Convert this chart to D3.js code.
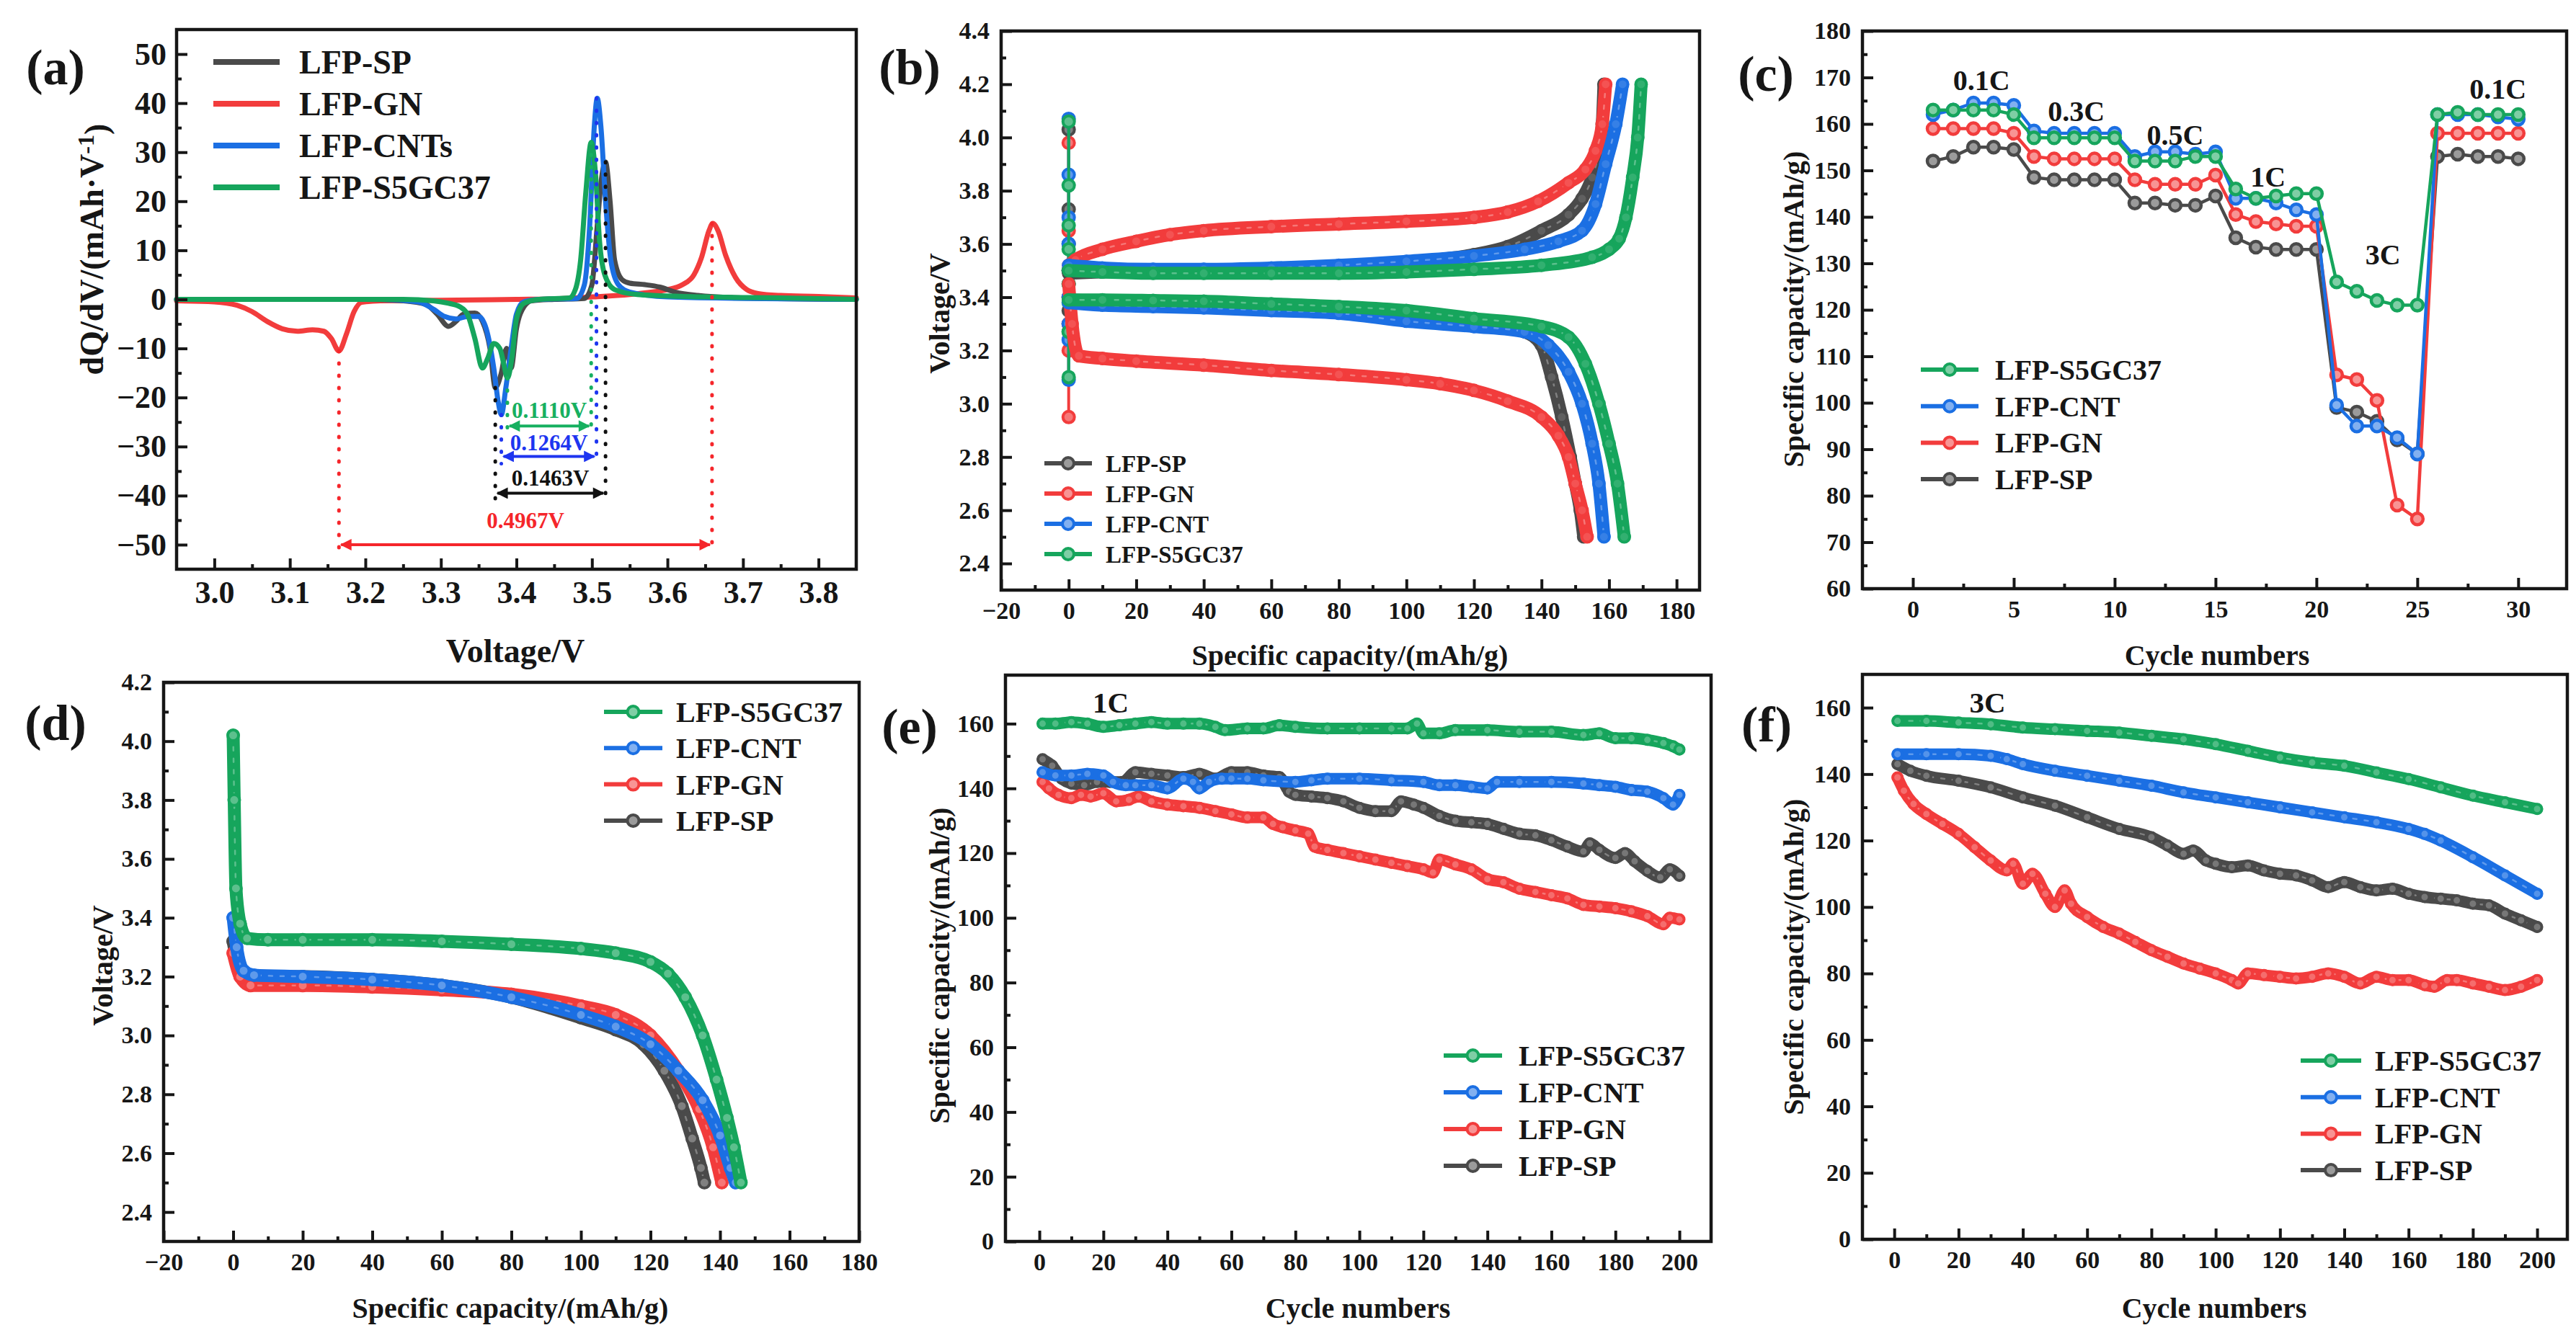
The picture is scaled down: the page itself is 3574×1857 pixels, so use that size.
<!DOCTYPE html>
<meta charset="utf-8">
<style>
  body { margin: 0; background: #fff; }
  svg { display: block; }
</style>
<body>
<script src="https://d3js.org/d3.v7.min.js"></script>
<script>
  // ---------- colours / names ----------
  var colors = { SP: "#4a4a4a", GN: "#f23c3c", CNT: "#1b6fe3", S5: "#16a55c" };

  // ---------- (a) dQ/dV ----------
  var aXTicks = [3.0, 3.1, 3.2, 3.3, 3.4, 3.5, 3.6, 3.7, 3.8];
  var aXMinor = [3.05, 3.15, 3.25, 3.35, 3.45, 3.55, 3.65, 3.75];
  var aYTicks = [-50, -40, -30, -20, -10, 0, 10, 20, 30, 40, 50];
  var aYMinor = [-45, -35, -25, -15, -5, 5, 15, 25, 35, 45];
  var aLegend = ["LFP-SP", "LFP-GN", "LFP-CNTs", "LFP-S5GC37"];

  var dqdvGN = [[2.95,-0.3],[3.00,-0.5],[3.03,-1.2],[3.05,-2.5],[3.07,-4.5],[3.09,-6.0],[3.11,-6.5],[3.13,-6.2],[3.145,-6.5],[3.155,-8],[3.165,-10.5],[3.175,-7],[3.185,-2.5],[3.195,-0.6],[3.22,-0.3],[3.3,-0.2],[3.4,0],[3.45,0.1],[3.5,0.5],[3.55,1.0],[3.58,1.5],[3.60,2.0],[3.62,3.0],[3.635,5.0],[3.645,8.5],[3.655,14],[3.66,15.5],[3.667,14],[3.677,9],[3.69,4.5],[3.705,2.0],[3.72,1.2],[3.75,0.8],[3.8,0.6],[3.85,0.3]];
  var dqdvSP = [[2.95,0],[3.2,0],[3.25,-0.3],[3.28,-1],[3.295,-3],[3.31,-5.5],[3.32,-4.5],[3.33,-3],[3.345,-2.8],[3.355,-4.5],[3.365,-10],[3.372,-18],[3.38,-15],[3.387,-10],[3.393,-14],[3.40,-6],[3.41,-1.5],[3.42,-0.3],[3.45,0],[3.49,0.2],[3.50,3],[3.507,15],[3.513,25],[3.518,28],[3.524,20],[3.53,8],[3.54,4],[3.55,3.3],[3.57,3],[3.59,2.5],[3.61,1.5],[3.64,0.8],[3.7,0.3],[3.85,0]];
  var dqdvCNT = [[2.95,0],[3.22,0],[3.27,-0.5],[3.29,-2],[3.305,-3.5],[3.32,-4],[3.335,-3.5],[3.35,-3.5],[3.36,-6],[3.37,-14],[3.376,-21],[3.38,-23.5],[3.386,-18],[3.393,-10],[3.40,-3],[3.41,-0.5],[3.43,0],[3.48,0.2],[3.49,3],[3.497,15],[3.503,35],[3.507,41],[3.512,35],[3.518,20],[3.525,8],[3.535,3],[3.55,1.5],[3.6,0.5],[3.7,0.2],[3.85,0]];
  var dqdvS5 = [[2.95,0],[3.25,0],[3.29,-0.3],[3.31,-0.8],[3.325,-1.5],[3.335,-3],[3.345,-8],[3.355,-14],[3.362,-12],[3.37,-9],[3.378,-10],[3.383,-13],[3.388,-16],[3.394,-12],[3.40,-4],[3.41,-0.8],[3.43,0],[3.47,0.3],[3.478,2],[3.485,8],[3.492,22],[3.499,32],[3.505,25],[3.51,12],[3.517,5],[3.53,2],[3.56,1],[3.65,0.5],[3.75,0.3],[3.85,0]];

  // polarization gaps: [left V, left value, right V, right value, arrow level, label level, label]
  var gapGN = [3.165, -10.5, 3.659, 15.5, -50, -45, "0.4967V"];
  var gapSP = [3.372, -18, 3.518, 28, -39.5, -36.3, "0.1463V"];
  var gapCNT = [3.380, -23.5, 3.506, 41, -32, -29.2, "0.1264V"];
  var gapS5 = [3.388, -16, 3.499, 32, -25.8, -22.6, "0.1110V"];

  // ---------- (b) charge / discharge ----------
  var bXTicks = [-20, 0, 20, 40, 60, 80, 100, 120, 140, 160, 180];
  var bXMinor = [-10, 10, 30, 50, 70, 90, 110, 130, 150, 170];
  var bYTicks = [2.4, 2.6, 2.8, 3.0, 3.2, 3.4, 3.6, 3.8, 4.0, 4.2, 4.4];
  var bYMinor = [2.5, 2.7, 2.9, 3.1, 3.3, 3.5, 3.7, 3.9, 4.1, 4.3];
  var bLegend = ["LFP-SP", "LFP-GN", "LFP-CNT", "LFP-S5GC37"];

  var restSP = [4.03, 3.73, 3.6, 3.5, 3.45, 3.4, 3.35, 3.3, 3.27];
  var restGN = [3.98, 3.65, 3.5, 3.4, 3.3, 3.2, 2.95];
  var restCNT = [4.07, 3.86, 3.7, 3.6, 3.5, 3.4, 3.3, 3.24, 3.09];
  var restS5 = [4.06, 3.82, 3.67, 3.58, 3.5, 3.45, 3.38, 3.27, 3.1];

  var chargeSP = [[0,3.49],[10,3.495],[25,3.498],[40,3.50],[60,3.505],[80,3.51],[100,3.53],[120,3.56],[130,3.59],[140,3.65],[148,3.71],[152,3.77],[155,3.85],[157,3.95],[158,4.05],[158.5,4.2]];
  var chargeGN = [[0,3.52],[2,3.54],[10,3.58],[20,3.61],[30,3.635],[40,3.65],[60,3.665],[80,3.675],[100,3.685],[120,3.70],[130,3.72],[139,3.76],[148,3.83],[153,3.88],[156,3.95],[158,4.05],[159,4.2]];
  var chargeCNT = [[0,3.52],[10,3.51],[25,3.505],[40,3.505],[60,3.51],[80,3.52],[100,3.535],[120,3.555],[135,3.58],[145,3.61],[152,3.65],[156,3.75],[159,3.9],[162,4.05],[164,4.2]];
  var chargeS5 = [[0,3.50],[10,3.495],[25,3.49],[40,3.49],[60,3.49],[80,3.49],[100,3.495],[120,3.505],[140,3.52],[155,3.55],[160,3.58],[163,3.62],[165,3.7],[167,3.85],[168.5,4.0],[169.5,4.2]];
  var dischSP = [[0,3.39],[10,3.385],[25,3.38],[40,3.375],[60,3.365],[80,3.35],[100,3.34],[120,3.31],[135,3.27],[140,3.22],[143,3.1],[146,2.95],[148.5,2.8],[150,2.7],[151.5,2.6],[152.5,2.5]];
  var dischGN = [[0,3.45],[1,3.3],[3,3.18],[10,3.17],[20,3.16],[40,3.145],[60,3.125],[80,3.11],[100,3.09],[110,3.075],[120,3.05],[130,3.01],[140,2.95],[145,2.88],[148,2.8],[150,2.7],[152,2.6],[153.5,2.5]];
  var dischCNT = [[0,3.38],[10,3.37],[25,3.365],[40,3.36],[60,3.35],[80,3.34],[100,3.31],[120,3.29],[135,3.27],[142,3.22],[148,3.12],[152,3.0],[155,2.85],[157,2.7],[158.5,2.5]];
  var dischS5 = [[0,3.39],[10,3.39],[25,3.388],[40,3.385],[60,3.375],[80,3.365],[100,3.35],[120,3.32],[140,3.29],[148,3.25],[153,3.15],[157,3.0],[160,2.85],[162.5,2.7],[164.5,2.5]];

  // ---------- (c) rate capability ----------
  var cXTicks = [0, 5, 10, 15, 20, 25, 30];
  var cXMinor = [2.5, 7.5, 12.5, 17.5, 22.5, 27.5];
  var cYTicks = [60, 70, 80, 90, 100, 110, 120, 130, 140, 150, 160, 170, 180];
  var cYMinor = [65, 75, 85, 95, 105, 115, 125, 135, 145, 155, 165, 175];
  var cycles30 = d3.range(1, 31);
  var rateS5 = [163,163,163,163,162,157,157,157,157,157,152,152,152,153,153,146,144,144.5,145,145,126,124,122,121,121,162,162.5,162,162,162];
  var rateCNT = [162,163,164.5,164.5,164,158.5,158,158,158,158,153,154,154,153.5,154,144,144,143,141.5,140.5,99.5,95,95,92.5,89,162,162,162,161.5,161];
  var rateGN = [159,159,159,159,158,153,152.5,152.5,152.5,152.5,148,147,147,147,149,140.5,139,138.5,138,138,106,105,100.5,78,75,158,158,158,158,158];
  var rateSP = [152,153,155,155,154.5,148.5,148,148,148,148,143,143,142.5,142.5,144.5,135.5,133.5,133,133,133,99,98,96,92,89,153,153.5,153,153,152.5];
  var rateLabels = [["0.1C", 3.4, 169.5], ["0.3C", 8.1, 162.8], ["0.5C", 13, 157.7], ["1C", 17.6, 148.7], ["3C", 23.3, 132], ["0.1C", 29, 167.6]];
  var cLegend = ["LFP-S5GC37", "LFP-CNT", "LFP-GN", "LFP-SP"];

  // ---------- (d) discharge ----------
  var dYTicks = [2.4, 2.6, 2.8, 3.0, 3.2, 3.4, 3.6, 3.8, 4.0, 4.2];
  var dYMinor = [2.5, 2.7, 2.9, 3.1, 3.3, 3.5, 3.7, 3.9, 4.1];
  var dS5 = [[0,4.02],[0.3,3.8],[0.8,3.5],[2,3.38],[4,3.33],[10,3.325],[20,3.325],[40,3.325],[60,3.32],[80,3.31],[100,3.295],[110,3.28],[120,3.25],[125,3.21],[130,3.13],[135,3.0],[139,2.85],[142,2.72],[144,2.62],[146,2.5]];
  var dCNT = [[0,3.4],[1,3.3],[3,3.22],[6,3.205],[20,3.2],[40,3.19],[60,3.17],[80,3.13],[100,3.07],[110,3.03],[120,2.97],[128,2.88],[135,2.78],[140,2.66],[143,2.55],[144.5,2.5]];
  var dGN = [[0,3.28],[2,3.2],[5,3.17],[20,3.17],[40,3.165],[60,3.155],[80,3.14],[100,3.1],[110,3.07],[120,3.0],[128,2.88],[134,2.75],[138,2.62],[140.5,2.5]];
  var dSP = [[0,3.32],[2,3.22],[5,3.2],[20,3.2],[40,3.19],[60,3.17],[80,3.13],[100,3.06],[110,3.02],[118,2.97],[124,2.88],[129,2.76],[132,2.65],[134.5,2.55],[135.5,2.5]];
  var dLegend = ["LFP-S5GC37", "LFP-CNT", "LFP-GN", "LFP-SP"];

  // ---------- (e) 1C cycling ----------
  var cycXTicks = [0, 20, 40, 60, 80, 100, 120, 140, 160, 180, 200];
  var cycXMinor = [10, 30, 50, 70, 90, 110, 130, 150, 170, 190];
  var cycYTicks = [0, 20, 40, 60, 80, 100, 120, 140, 160];
  var cycYMinor = [10, 30, 50, 70, 90, 110, 130, 150];
  var eS5 = [[1,160],[5,160],[10,160.5],[15,160],[20,159],[25,159.5],[30,160],[35,160.5],[40,160],[45,160],[50,160],[55,159],[58,158],[65,158.5],[70,158.5],[75,159.5],[80,159],[90,158.5],[100,158.5],[110,158.5],[115,158.5],[118,160],[120,157],[125,157],[130,158],[140,158],[150,157.5],[160,157.5],[170,156.5],[175,157],[180,155.5],[185,155.5],[190,155],[195,154],[198,153],[200,152]];
  var eCNT = [[1,145],[5,144],[10,144],[15,144.5],[20,144],[23,142],[27,141],[30,141],[35,141],[40,140],[45,143],[48,142],[50,140],[53,142],[57,143],[60,143],[65,143],[70,142.5],[80,142],[85,142.5],[90,143],[100,143],[110,142.5],[120,142],[125,141],[130,141],[135,140.5],[140,140],[143,142],[150,142],[160,142],[170,141.5],[175,141],[180,140.5],[185,139.5],[190,139],[195,137],[198,135],[200,138]];
  var eGN = [[1,142],[3,140],[6,138],[10,137],[13,138],[16,137.5],[20,138.5],[24,136],[28,136.5],[31,137.5],[35,136],[40,135],[45,134.5],[50,134],[55,133],[60,132],[65,131],[70,131],[73,129],[76,128],[80,127],[84,126],[86,122],[90,121],[95,120],[100,119],[105,118],[110,117],[115,116],[120,115],[123,114],[125,118],[130,116.5],[135,115],[140,112],[145,111],[150,109],[155,108],[160,107],[165,106],[170,104],[175,103.5],[180,103],[185,102],[190,100.5],[195,98],[197,100],[200,99.5]];
  var eSP = [[1,149],[4,147],[7,143],[10,141.5],[14,141],[18,142],[22,142],[26,142],[30,145],[35,144.5],[40,144],[45,143.5],[50,144.5],[55,143],[60,145],[65,145],[70,144],[75,143.5],[78,139],[80,138],[85,137.5],[90,137],[95,136],[100,134],[105,133],[110,133],[113,136],[117,135],[120,134],[125,131.5],[130,130],[135,129.5],[140,129],[145,127.5],[150,126],[155,125.5],[160,124],[165,122],[170,120.5],[172,123],[175,121],[180,118.5],[183,120],[186,117.5],[190,114.5],[194,112.5],[197,115],[200,113]];

  // ---------- (f) 3C cycling ----------
  var fS5 = [[1,156],[10,156],[20,155.5],[30,155],[40,154],[50,153.5],[60,153],[70,152.5],[80,151.5],[90,150.5],[100,149],[110,147],[120,145],[130,143.5],[140,142.5],[150,140.5],[160,138.5],[170,136],[180,133.5],[190,131.5],[200,129.5]];
  var fCNT = [[1,146],[10,146],[20,146],[30,145.5],[35,144.5],[40,143],[50,141],[60,139.5],[70,138],[80,136.5],[90,134.5],[100,133],[110,131.5],[120,130],[130,128.5],[140,127],[150,125.5],[160,123.5],[165,122],[170,120],[180,115],[190,109.5],[200,104]];
  var fGN = [[1,139],[3,135],[6,131],[10,128],[15,125],[20,122],[25,118],[30,114],[35,111],[37,113],[40,107],[43,110],[47,104],[50,100],[53,105],[55,101],[60,97],[65,94],[70,92],[75,89.5],[80,87],[85,85],[90,83],[95,81.5],[100,80],[105,78],[107,77],[110,80],[115,79.5],[120,79],[125,78.5],[130,79],[135,80],[140,79],[145,77],[150,79],[155,78],[160,78],[165,76.5],[168,76],[172,78],[175,78],[180,77],[185,76],[190,75],[195,76],[200,78]];
  var fSP = [[1,143],[5,141],[10,139.5],[20,138],[30,136],[40,133],[50,130.5],[60,127],[70,123.5],[80,121],[85,118.5],[90,116],[93,117],[97,114],[100,113],[105,112],[110,112.5],[115,111],[120,110],[125,109.5],[130,108],[135,106],[140,107.5],[145,106],[150,105],[155,105.5],[160,104],[165,103],[170,102.5],[175,102],[180,101],[185,100.5],[190,98],[195,96],[200,94]];
  var eRate = ["1C", 22.3, 166.7];
  var fRate = ["3C", 29, 161.7];

  // ---------- drawing ----------
  var serif = "'Liberation Serif', 'Times New Roman', serif";
  var ink = "#161616";

  var svg = d3.select("body").append("svg")
    .attr("width", 3574)
    .attr("height", 1857)
    .attr("font-family", serif)
    .attr("font-weight", "bold");

  var defs = svg.append("defs");

  function tint(c, k) {
    return d3.interpolateRgb(c, "#ffffff")(k);
  }

  function panel(p) {
    var x = d3.scaleLinear().domain(p.xDomain).range([p.left, p.right]);
    var y = d3.scaleLinear().domain(p.yDomain).range([p.bottom, p.top]);
    var g = svg.append("g");
    var content = g.append("g");

    function styleAxis(a) {
      a.select(".domain").remove();
      a.attr("font-family", serif).attr("font-size", p.fs).attr("font-weight", "bold");
      a.selectAll("line").attr("stroke", ink).attr("stroke-width", 4);
      a.selectAll("text").attr("fill", ink);
    }

    g.append("g").attr("transform", "translate(0," + p.bottom + ")")
      .call(d3.axisBottom(x).tickValues(p.xMinor).tickSize(-7).tickFormat(""))
      .call(styleAxis);
    g.append("g").attr("transform", "translate(0," + p.bottom + ")")
      .call(d3.axisBottom(x).tickValues(p.xTicks).tickSize(-15).tickPadding(p.padX).tickFormat(p.xFormat))
      .call(styleAxis);
    g.append("g").attr("transform", "translate(" + p.left + ",0)")
      .call(d3.axisLeft(y).tickValues(p.yMinor).tickSize(-7).tickFormat(""))
      .call(styleAxis);
    g.append("g").attr("transform", "translate(" + p.left + ",0)")
      .call(d3.axisLeft(y).tickValues(p.yTicks).tickSize(-15).tickPadding(p.padY).tickFormat(p.yFormat))
      .call(styleAxis);

    g.append("rect")
      .attr("x", p.left).attr("y", p.top)
      .attr("width", p.right - p.left).attr("height", p.bottom - p.top)
      .attr("fill", "none").attr("stroke", ink).attr("stroke-width", 4.5);

    // titles
    g.append("text")
      .attr("x", p.xTitle[0]).attr("y", p.xTitle[1])
      .attr("text-anchor", "middle").attr("dy", "0.35em")
      .attr("font-size", p.tfs).attr("fill", ink)
      .text(p.xLabel);
    var yt = g.append("text")
      .attr("transform", "translate(" + p.yTitle[0] + "," + p.yTitle[1] + ") rotate(-90)")
      .attr("text-anchor", "middle").attr("dy", "0.35em")
      .attr("font-size", p.tfs).attr("fill", ink);
    if (typeof p.yLabel === "string") {
      yt.text(p.yLabel);
    } else {
      yt.append("tspan").text(p.yLabel[0]);
      yt.append("tspan").attr("dy", "-0.4em").attr("font-size", p.tfs * 0.7).text(p.yLabel[1]);
      yt.append("tspan").attr("dy", "0.4em").text(p.yLabel[2]);
    }
    g.append("text")
      .attr("x", p.tag[0]).attr("y", p.tag[1])
      .attr("text-anchor", "middle").attr("dy", "0.35em")
      .attr("font-size", 70).attr("fill", ink)
      .text(p.tagText);

    return { g: content, x: x, y: y, frame: g };
  }

  function plainLine(P, data, color, w) {
    P.g.append("path")
      .datum(data)
      .attr("fill", "none").attr("stroke", color).attr("stroke-width", w)
      .attr("stroke-linejoin", "round").attr("stroke-linecap", "round")
      .attr("d", d3.line().x(function (d) { return P.x(d[0]); }).y(function (d) { return P.y(d[1]); }).curve(d3.curveMonotoneX));
  }

  // dense hollow-circle curve: wide coloured band, faint pale core, beads at the points
  function band(P, data, color, w, k) {
    var line = d3.line().x(function (d) { return P.x(d[0]); }).y(function (d) { return P.y(d[1]); }).curve(d3.curveMonotoneX);
    P.g.append("path").datum(data)
      .attr("fill", "none").attr("stroke", color).attr("stroke-width", w)
      .attr("stroke-linejoin", "round").attr("stroke-linecap", "round").attr("d", line);
    P.g.append("path").datum(data)
      .attr("fill", "none").attr("stroke", tint(color, 0.5)).attr("stroke-width", 2.5)
      .attr("stroke-opacity", 0.6)
      .attr("stroke-dasharray", "5,11").attr("stroke-linecap", "round").attr("d", line);
    P.g.selectAll(null).data(data).enter().append("circle")
      .attr("cx", function (d) { return P.x(d[0]); })
      .attr("cy", function (d) { return P.y(d[1]); })
      .attr("r", w / 2 - 1.5)
      .attr("fill", tint(color, k)).attr("stroke", color).attr("stroke-width", 4);
  }

  function restColumn(P, volts, color) {
    var pts = volts.map(function (v) { return [0, v]; });
    P.g.append("path").datum(pts)
      .attr("fill", "none").attr("stroke", color).attr("stroke-width", 4)
      .attr("d", d3.line().x(function (d) { return P.x(d[0]); }).y(function (d) { return P.y(d[1]); }));
    P.g.selectAll(null).data(pts).enter().append("circle")
      .attr("cx", function (d) { return P.x(d[0]); })
      .attr("cy", function (d) { return P.y(d[1]); })
      .attr("r", 8).attr("fill", tint(color, 0.3)).attr("stroke", color).attr("stroke-width", 4);
  }

  function marked(P, xs, ys, color) {
    var pts = xs.map(function (c, i) { return [c, ys[i]]; });
    P.g.append("path").datum(pts)
      .attr("fill", "none").attr("stroke", color).attr("stroke-width", 4.5)
      .attr("d", d3.line().x(function (d) { return P.x(d[0]); }).y(function (d) { return P.y(d[1]); }));
    P.g.selectAll(null).data(pts).enter().append("circle")
      .attr("cx", function (d) { return P.x(d[0]); })
      .attr("cy", function (d) { return P.y(d[1]); })
      .attr("r", 8).attr("fill", tint(color, 0.45)).attr("stroke", color).attr("stroke-width", 4.5);
  }

  function legend(names, cols, x0, x1, xt, y0, dy, fs, w, withDot) {
    var lg = svg.append("g");
    names.forEach(function (n, i) {
      var yy = y0 + dy * i;
      lg.append("line").attr("x1", x0).attr("x2", x1).attr("y1", yy).attr("y2", yy)
        .attr("stroke", cols[i]).attr("stroke-width", w);
      if (withDot) {
        lg.append("circle").attr("cx", (x0 + x1) / 2).attr("cy", yy).attr("r", 8)
          .attr("fill", tint(cols[i], 0.45)).attr("stroke", cols[i]).attr("stroke-width", 4);
      }
      lg.append("text").attr("x", xt).attr("y", yy).attr("dy", "0.35em")
        .attr("font-size", fs).attr("fill", ink).text(n);
    });
  }

  function rateText(P, r, fs) {
    P.frame.append("text")
      .attr("x", P.x(r[1])).attr("y", P.y(r[2]))
      .attr("text-anchor", "middle").attr("dy", "0.35em")
      .attr("font-size", fs).attr("fill", ink).text(r[0]);
  }

  var f1 = d3.format(".1f");

  // (a)
  var A = panel({
    left: 245, right: 1188, top: 41, bottom: 790,
    xDomain: [2.95, 3.85], yDomain: [-55, 55],
    xTicks: aXTicks, xMinor: aXMinor, yTicks: aYTicks, yMinor: aYMinor,
    xFormat: f1, yFormat: d3.format("d"), fs: 44, padX: 16, padY: 14,
    tfs: 46, xLabel: "Voltage/V", xTitle: [715, 903],
    yLabel: ["dQ/dV/(mAh·V", "-1", ")"], yTitle: [127, 346],
    tag: [77, 92], tagText: "(a)"
  });
  plainLine(A, dqdvGN, colors.GN, 7);
  plainLine(A, dqdvSP, colors.SP, 7);
  plainLine(A, dqdvCNT, colors.CNT, 7);
  plainLine(A, dqdvS5, colors.S5, 7);

  var gapCols = ["#f5262b", "#111111", "#1e35f0", "#17b060"];
  [gapGN, gapSP, gapCNT, gapS5].forEach(function (gp, i) {
    var col = gapCols[i];
    defs.append("marker").attr("id", "ah" + i)
      .attr("viewBox", "0 0 10 10").attr("refX", 9).attr("refY", 5)
      .attr("markerWidth", 6).attr("markerHeight", 4).attr("orient", "auto-start-reverse")
      .append("path").attr("d", "M0,0L10,5L0,10z").attr("fill", col);
    var ybot = gp[4] - 1.5;
    [[gp[0], gp[1]], [gp[2], gp[3]]].forEach(function (e) {
      A.g.append("line")
        .attr("x1", A.x(e[0])).attr("x2", A.x(e[0]))
        .attr("y1", A.y(e[1])).attr("y2", A.y(ybot))
        .attr("stroke", col).attr("stroke-width", 5)
        .attr("stroke-dasharray", "1,16").attr("stroke-linecap", "round");
    });
    A.g.append("line")
      .attr("x1", A.x(gp[0]) + 3).attr("x2", A.x(gp[2]) - 3)
      .attr("y1", A.y(gp[4])).attr("y2", A.y(gp[4]))
      .attr("stroke", col).attr("stroke-width", 4)
      .attr("marker-start", "url(#ah" + i + ")").attr("marker-end", "url(#ah" + i + ")");
    A.g.append("text")
      .attr("x", A.x((gp[0] + gp[2]) / 2)).attr("y", A.y(gp[5]))
      .attr("text-anchor", "middle").attr("dy", "0.35em")
      .attr("font-size", 31).attr("fill", col).text(gp[6]);
  });
  legend(aLegend, [colors.SP, colors.GN, colors.CNT, colors.S5], 296, 388, 415, 86, 58, 46, 8, false);

  // (b)
  var B = panel({
    left: 1389, right: 2358, top: 43, bottom: 819,
    xDomain: [-20, 186.8], yDomain: [2.3, 4.4],
    xTicks: bXTicks, xMinor: bXMinor, yTicks: bYTicks, yMinor: bYMinor,
    xFormat: d3.format("d"), yFormat: f1, fs: 34, padX: 16, padY: 16,
    tfs: 40, xLabel: "Specific capacity/(mAh/g)", xTitle: [1873, 909],
    yLabel: "Voltage/V", yTitle: [1303, 435],
    tag: [1262, 92], tagText: "(b)"
  });
  restColumn(B, restSP, colors.SP);
  restColumn(B, restGN, colors.GN);
  restColumn(B, restCNT, colors.CNT);
  restColumn(B, restS5, colors.S5);
  band(B, chargeSP, colors.SP, 18, 0.12);
  band(B, dischSP, colors.SP, 18, 0.12);
  band(B, chargeGN, colors.GN, 18, 0.12);
  band(B, dischGN, colors.GN, 18, 0.12);
  band(B, chargeCNT, colors.CNT, 18, 0.12);
  band(B, dischCNT, colors.CNT, 18, 0.12);
  band(B, chargeS5, colors.S5, 18, 0.12);
  band(B, dischS5, colors.S5, 18, 0.12);
  legend(bLegend, [colors.SP, colors.GN, colors.CNT, colors.S5], 1449, 1515, 1534, 643, 42, 33, 6, true);

  // (c)
  var C = panel({
    left: 2584, right: 3561, top: 43, bottom: 817,
    xDomain: [-2.5, 32.4], yDomain: [60, 180],
    xTicks: cXTicks, xMinor: cXMinor, yTicks: cYTicks, yMinor: cYMinor,
    xFormat: d3.format("d"), yFormat: d3.format("d"), fs: 34, padX: 16, padY: 16,
    tfs: 40, xLabel: "Cycle numbers", xTitle: [3076, 909],
    yLabel: "Specific capacity/(mAh/g)", yTitle: [2488, 429],
    tag: [2450, 101], tagText: "(c)"
  });
  marked(C, cycles30, rateSP, colors.SP);
  marked(C, cycles30, rateGN, colors.GN);
  marked(C, cycles30, rateCNT, colors.CNT);
  marked(C, cycles30, rateS5, colors.S5);
  rateLabels.forEach(function (r) { rateText(C, r, 40); });
  legend(cLegend, [colors.S5, colors.CNT, colors.GN, colors.SP], 2665, 2745, 2768, 513, 50.7, 40, 6, true);

  // (d)
  var D = panel({
    left: 227, right: 1192, top: 947, bottom: 1723,
    xDomain: [-20, 180], yDomain: [2.3, 4.2],
    xTicks: bXTicks, xMinor: bXMinor, yTicks: dYTicks, yMinor: dYMinor,
    xFormat: d3.format("d"), yFormat: f1, fs: 34, padX: 16, padY: 16,
    tfs: 40, xLabel: "Specific capacity/(mAh/g)", xTitle: [708, 1815],
    yLabel: "Voltage/V", yTitle: [142, 1340],
    tag: [77, 1002], tagText: "(d)"
  });
  band(D, dSP, colors.SP, 18, 0.3);
  band(D, dGN, colors.GN, 18, 0.3);
  band(D, dCNT, colors.CNT, 18, 0.3);
  band(D, dS5, colors.S5, 18, 0.3);
  legend(dLegend, [colors.S5, colors.CNT, colors.GN, colors.SP], 838, 919, 938, 988, 50.3, 40, 6, true);

  // (e)
  var E = panel({
    left: 1395, right: 2374, top: 937, bottom: 1723,
    xDomain: [-10.6, 209.9], yDomain: [0, 175],
    xTicks: cycXTicks, xMinor: cycXMinor, yTicks: cycYTicks, yMinor: cycYMinor,
    xFormat: d3.format("d"), yFormat: d3.format("d"), fs: 34, padX: 16, padY: 16,
    tfs: 40, xLabel: "Cycle numbers", xTitle: [1884, 1815],
    yLabel: "Specific capacity/(mAh/g)", yTitle: [1303, 1340],
    tag: [1262, 1007], tagText: "(e)"
  });
  band(E, eSP, colors.SP, 16, 0.25);
  band(E, eGN, colors.GN, 16, 0.25);
  band(E, eCNT, colors.CNT, 16, 0.25);
  band(E, eS5, colors.S5, 16, 0.25);
  rateText(E, eRate, 41);
  legend(dLegend, [colors.S5, colors.CNT, colors.GN, colors.SP], 2003, 2084, 2107, 1465, 51, 40, 6, true);

  // (f)
  var F = panel({
    left: 2584, right: 3562, top: 936, bottom: 1720,
    xDomain: [-9.9, 209.4], yDomain: [0, 170],
    xTicks: cycXTicks, xMinor: cycXMinor, yTicks: cycYTicks, yMinor: cycYMinor,
    xFormat: d3.format("d"), yFormat: d3.format("d"), fs: 34, padX: 16, padY: 16,
    tfs: 40, xLabel: "Cycle numbers", xTitle: [3072, 1815],
    yLabel: "Specific capacity/(mAh/g)", yTitle: [2488, 1328],
    tag: [2451, 1004], tagText: "(f)"
  });
  band(F, fSP, colors.SP, 16, 0.25);
  band(F, fGN, colors.GN, 16, 0.25);
  band(F, fCNT, colors.CNT, 16, 0.25);
  band(F, fS5, colors.S5, 16, 0.25);
  rateText(F, fRate, 41);
  legend(dLegend, [colors.S5, colors.CNT, colors.GN, colors.SP], 3192, 3276, 3295, 1472, 50.7, 40, 6, true);
</script>
